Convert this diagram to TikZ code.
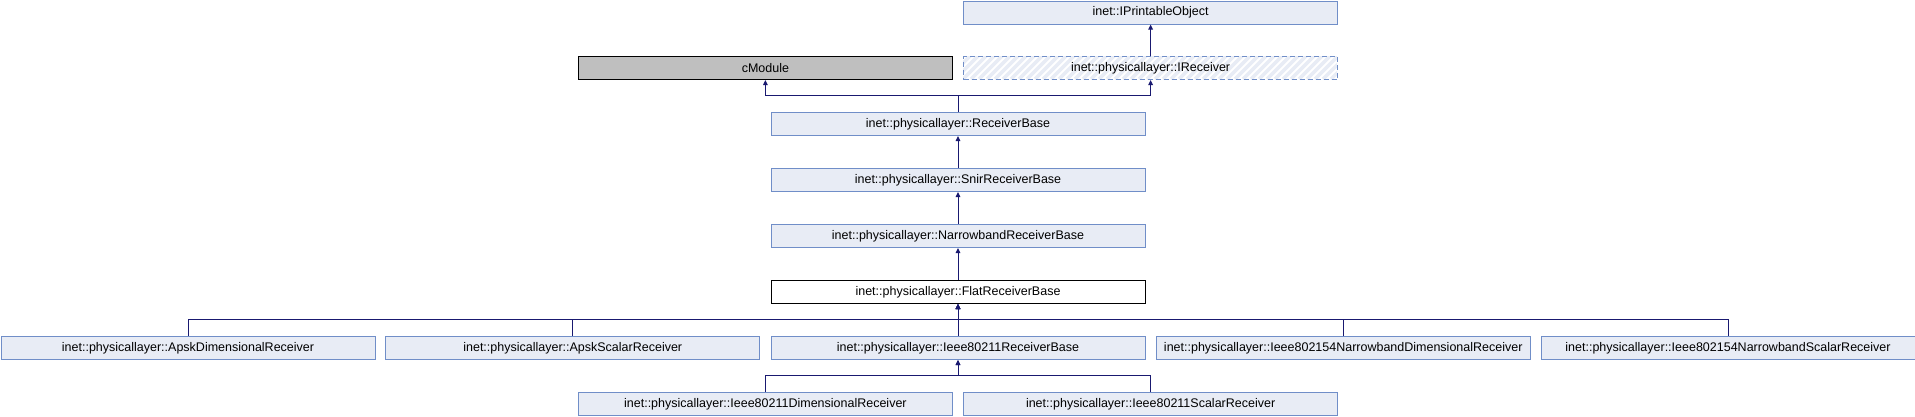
\documentclass[tikz,border=0pt]{standalone}
\usepackage{fontspec}
\setmainfont{Liberation Sans}
\usetikzlibrary{arrows.meta}
\definecolor{boxfill}{RGB}{232,236,245}
\definecolor{boxline}{RGB}{112,142,200}
\definecolor{edgecol}{RGB}{25,25,112}
\definecolor{extfill}{RGB}{191,191,191}
\begin{document}
\begin{tikzpicture}[x=1pt,y=-1pt,
  cls/.style={draw=boxline,fill=boxfill,line width=1pt,minimum width=374pt,minimum height=23pt,inner sep=0pt,anchor=north west,font=\fontsize{12.5}{14}\selectfont},
  cur/.style={cls,draw=black,fill=white},
  ext/.style={cls,draw=black,fill=extfill},
  ifc/.style={cls,fill=none,dash pattern=on 5pt off 3pt},
  edge/.style={draw=edgecol,line width=1pt,-{Triangle[length=5pt,width=4.5pt]}}]
\useasboundingbox (0,0) rectangle (1915,416);
% hatch of the interface box
\begin{scope}
  \clip (963.1,56) rectangle (1337.1,79);
  \foreach \i in {-32,-24,...,384} \draw[boxfill,line width=3.5pt] (963.1+\i,79) -- (986.1+\i,56);
\end{scope}
% nodes
\node[cls] (ipo) at (963.1,0.5) {inet::IPrintableObject};
\node[ext] (cm) at (577.9,56) {cModule};
\node[ifc] (irc) at (963.1,56) {inet::physicallayer::IReceiver};
\node[cls] (rb) at (770.5,112) {inet::physicallayer::ReceiverBase};
\node[cls] (snir) at (770.5,168) {inet::physicallayer::SnirReceiverBase};
\node[cls] (nb) at (770.5,224) {inet::physicallayer::NarrowbandReceiverBase};
\node[cur] (flat) at (770.5,280) {inet::physicallayer::FlatReceiverBase};
\node[cls] (apd) at (0.5,336) {inet::physicallayer::ApskDimensionalReceiver};
\node[cls] (aps) at (385.25,336) {inet::physicallayer::ApskScalarReceiver};
\node[cls] (i11) at (770.5,336) {inet::physicallayer::Ieee80211ReceiverBase};
\node[cls] (n54d) at (1155.75,336) {inet::physicallayer::Ieee802154NarrowbandDimensionalReceiver};
\node[cls] (n54s) at (1540.5,336) {inet::physicallayer::Ieee802154NarrowbandScalarReceiver};
\node[cls] (i11d) at (577.9,392) {inet::physicallayer::Ieee80211DimensionalReceiver};
\node[cls] (i11s) at (963.1,392) {inet::physicallayer::Ieee80211ScalarReceiver};
% junction levels
\coordinate (j1) at (0,95.75);
\coordinate (j2) at (0,319.5);
\coordinate (j3) at (0,375.5);
% edges
\draw[edge] (irc.north) -- (ipo.south);
\draw[edge] (rb.north) -- (rb.north |- j1) -| (cm.south);
\draw[edge] (rb.north) -- (rb.north |- j1) -| (irc.south);
\draw[edge] (snir.north) -- (rb.south);
\draw[edge] (nb.north) -- (snir.south);
\draw[edge] (flat.north) -- (nb.south);
\foreach \c in {apd,aps,i11,n54d,n54s}
  \draw[edge] (\c.north) -- (\c.north |- j2) -| (flat.south);
\foreach \c in {i11d,i11s}
  \draw[edge] (\c.north) -- (\c.north |- j3) -| (i11.south);
\end{tikzpicture}
\end{document}
